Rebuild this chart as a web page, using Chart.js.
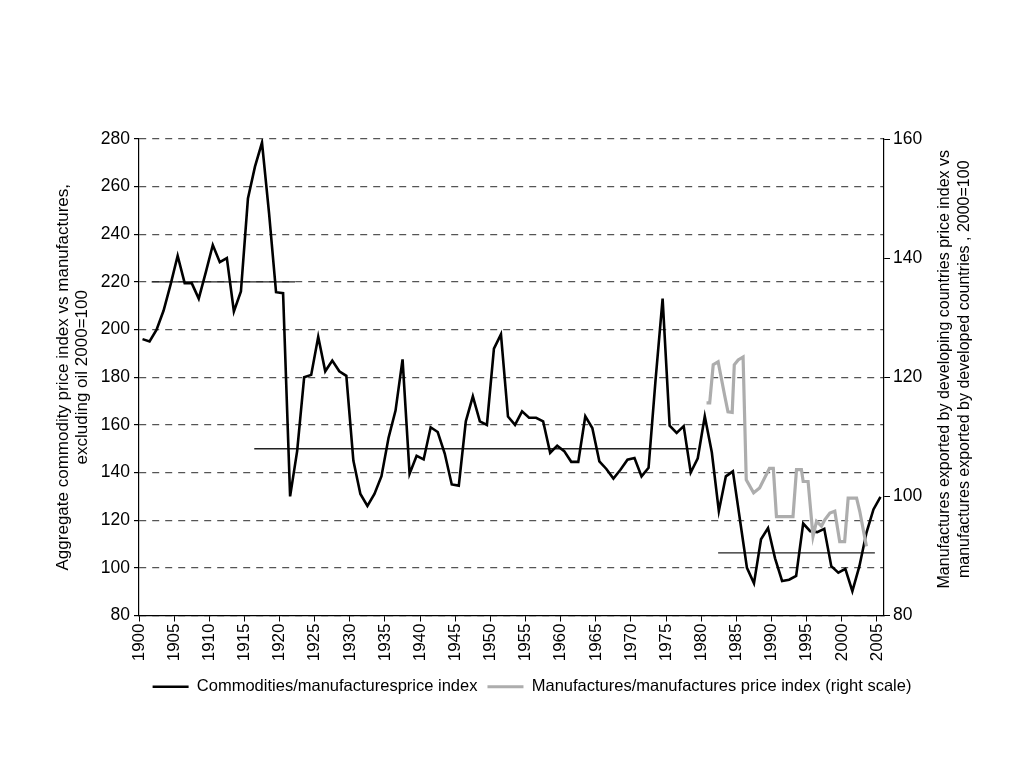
<!DOCTYPE html>
<html>
<head>
<meta charset="utf-8">
<script src="https://cdn.jsdelivr.net/npm/chart.js@4.4.0/dist/chart.umd.min.js"></script>
<style>
  html, body { margin: 0; padding: 0; background: #fff; }
  #wrap { width: 1024px; height: 768px; }
</style>
</head>
<body>
<div id="wrap"><canvas id="chart"></canvas></div>
<script>
// yearly commodities / manufactures index, 1900-2005 (left scale)
var years = [];
for (var yr = 1900; yr <= 2005; yr++) years.push(yr);
var commodities = [
  196, 195, 200, 208, 219, 231, 219.5, 219.5, 213, 224,
  235.5, 228.3, 230, 207.6, 216, 255, 268.4, 278.5, 249, 215.7,
  215.3, 130, 149, 180, 181, 197, 182.5, 187, 182.5, 180.6,
  145, 131, 126, 131, 138.5, 154.5, 166, 187.5, 139.5, 147,
  145.5, 159, 157, 148, 135, 134.5, 161.5, 172, 161.5, 160,
  192, 198, 163.5, 160, 165.7, 163, 163, 161.5, 148.3, 151.3,
  149, 144.5, 144.5, 163.6, 158.7, 144.7, 141.5, 137.5, 141.2, 145.4,
  146.1, 138.4, 142, 179, 213, 159.7, 156.6, 159.5, 140, 146,
  163.6, 148.5, 123.8, 138.4, 140.5, 120.3, 100, 93.5, 112, 116.7,
  104, 94.5, 95, 96.6, 118.6, 115.4, 115, 116.4, 100.7, 98,
  99.6, 90.2, 100.7, 114.7, 124.5, 129.8
];

// manufactures/manufactures index (right scale), sub-annual readings
var manufTime = [
  1980.75, 1981.2, 1981.7, 1982.4, 1983.35, 1983.8, 1984.4, 1984.7, 1985.25, 1985.95,
  1986.4, 1987.45, 1988.3, 1989.7, 1990.25, 1990.7, 1993.05, 1993.55, 1994.25, 1994.5,
  1995.2, 1995.9, 1996.4, 1997.1, 1997.6, 1998.3, 1999.0, 1999.7, 2000.4, 2000.9,
  2002.1, 2002.55, 2003.5
];
var manufValues = [
  115.7, 115.7, 122.1, 122.6, 116.8, 114.2, 114.1, 122.1, 122.9, 123.4,
  102.8, 100.6, 101.4, 104.7, 104.7, 96.6, 96.6, 104.5, 104.5, 102.5,
  102.5, 93.3, 95.8, 95.0, 96.1, 97.2, 97.5, 92.4, 92.4, 99.7,
  99.7, 97.5, 91.6
];

// period averages (left scale)
var avgStart = [1901.8, 1916.4, 1982.4];
var avgEnd   = [1922.2, 1979.3, 2004.7];
var avgLevel = [220, 150, 106.3];

var xTickStep = 5;
var leftTicks = [80, 280, 20];
var rightTicks = [80, 160, 20];

var blackData = years.map(function (y, i) { return { x: y + 0.5, y: commodities[i] }; });
var grayData = manufTime.map(function (t, i) { return { x: t, y: manufValues[i] }; });

var datasets = [
  {
    label: 'Commodities/manufacturesprice index',
    data: blackData,
    borderColor: '#000000',
    backgroundColor: '#000000',
    borderWidth: 2.6,
    pointRadius: 0,
    pointStyle: 'line',
    yAxisID: 'y',
    order: 1
  },
  {
    label: 'Manufactures/manufactures price index (right scale)',
    data: grayData,
    borderColor: '#adadad',
    backgroundColor: '#adadad',
    borderWidth: 3.2,
    pointRadius: 0,
    pointStyle: 'line',
    yAxisID: 'y2',
    order: 0
  }
];
for (var k = 0; k < avgLevel.length; k++) {
  datasets.push({
    label: 'avg' + k,
    data: [{ x: avgStart[k], y: avgLevel[k] }, { x: avgEnd[k], y: avgLevel[k] }],
    borderColor: '#222222',
    borderWidth: 1.3,
    pointRadius: 0,
    yAxisID: 'y',
    order: 2
  });
}

var axisTitles = {
  id: 'axisTitles',
  afterDraw: function (chart) {
    var c = chart.ctx, a = chart.chartArea;
    c.save();
    c.fillStyle = '#000';
    c.textAlign = 'center';
    c.textBaseline = 'middle';
    c.font = '17px "Liberation Sans", Arial, sans-serif';
    var cy = (a.top + a.bottom) / 2;
    c.save();
    c.translate(63, cy);
    c.rotate(-Math.PI / 2);
    c.fillText('Aggregate commodity price index vs manufactures,', 0, 0);
    c.restore();
    c.save();
    c.translate(82, cy);
    c.rotate(-Math.PI / 2);
    c.fillText('excluding oil 2000=100', 0, 0);
    c.restore();
    c.font = '16px "Liberation Sans", Arial, sans-serif';
    c.save();
    c.translate(945, cy - 8);
    c.rotate(-Math.PI / 2);
    c.fillText('Manufactures exported by developing countries price index vs', 0, 0);
    c.restore();
    c.save();
    c.translate(965, cy - 8);
    c.rotate(-Math.PI / 2);
    c.fillText('manufactures exported by developed countries , 2000=100', 0, 0);
    c.restore();
    c.restore();
  }
};

Chart.defaults.font.family = '"Liberation Sans", Arial, sans-serif';
Chart.defaults.color = '#000';

new Chart(document.getElementById('chart'), {
  type: 'line',
  data: { datasets: datasets },
  options: {
    responsive: true,
    maintainAspectRatio: false,
    animation: false,
    layout: { padding: { left: 94, right: 54, top: 139, bottom: 63 } },
    plugins: {
      legend: {
        position: 'bottom',
        labels: {
          usePointStyle: true,
          pointStyleWidth: 36,
          font: { size: 16.5 },
          color: '#000',
          padding: 10,
          filter: function (item) { return item.datasetIndex < 2; },
          sort: function (a, b) { return a.datasetIndex - b.datasetIndex; }
        }
      },
      tooltip: { enabled: false }
    },
    scales: {
      x: {
        type: 'linear',
        min: years[0],
        max: years[years.length - 1] + 1,
        afterFit: function (s) { s.height = 53; },
        border: { color: '#000', width: 1.2 },
        grid: { drawOnChartArea: false, tickLength: 6, color: '#000' },
        ticks: {
          stepSize: xTickStep,
          includeBounds: false,
          autoSkip: false,
          minRotation: 90,
          maxRotation: 90,
          padding: 2,
          font: { size: 17 },
          color: '#000',
          callback: function (v) { return String(v); }
        }
      },
      y: {
        position: 'left',
        min: leftTicks[0],
        max: leftTicks[1],
        afterFit: function (s) { s.width = 45; },
        border: { color: '#000', width: 1.2, dash: [7, 6] },
        grid: {
          color: '#555',
          lineWidth: 1.2,
          tickLength: 5,
          tickColor: '#000',
          tickBorderDash: []
        },
        ticks: { stepSize: leftTicks[2], padding: 4, font: { size: 17.5 }, color: '#000' }
      },
      y2: {
        position: 'right',
        min: rightTicks[0],
        max: rightTicks[1],
        afterFit: function (s) { s.width = 86; },
        border: { color: '#000', width: 1.2 },
        grid: { drawOnChartArea: false, tickLength: 6, color: '#000' },
        ticks: { stepSize: rightTicks[2], padding: 3, font: { size: 17.5 }, color: '#000' }
      }
    }
  },
  plugins: [axisTitles]
});
</script>
</body>
</html>
